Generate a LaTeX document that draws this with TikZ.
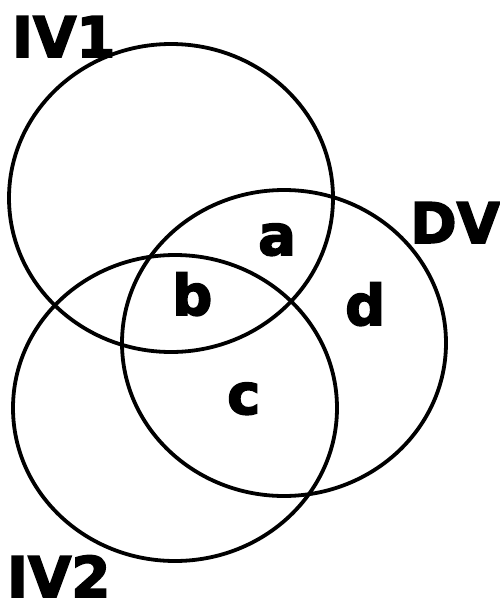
\documentclass[tikz,border=0pt]{standalone}
\usepackage{fontspec}
\setmainfont{DejaVu Sans}[BoldFont={DejaVu Sans Bold},BoldFeatures={FakeBold=3}]
\begin{document}
\begin{tikzpicture}[x=1pt,y=-1pt,
  ring/.style={line width=3.8pt,draw=black},
  lbl/.style={font=\fontsize{56}{56}\selectfont\bfseries,inner sep=0pt,anchor=base west}]
\useasboundingbox (0,0) rectangle (500,616);
\draw[ring] (171,198) ellipse [x radius=162, y radius=154];
\draw[ring] (284,343) ellipse [x radius=162, y radius=153];
\draw[ring] (175,408) ellipse [x radius=162, y radius=153];
\node[lbl] (iv1) at (12,57) {IV1};
\node[lbl] (dv) at (410,243) {DV};
\node[lbl] (iv2) at (7,597) {IV2};
\node[lbl] (a) at (258,255) {a};
\node[lbl] (b) at (172,315) {b};
\node[lbl] (c) at (227,414) {c};
\node[lbl] (d) at (345,325) {d};
\end{tikzpicture}
\end{document}
